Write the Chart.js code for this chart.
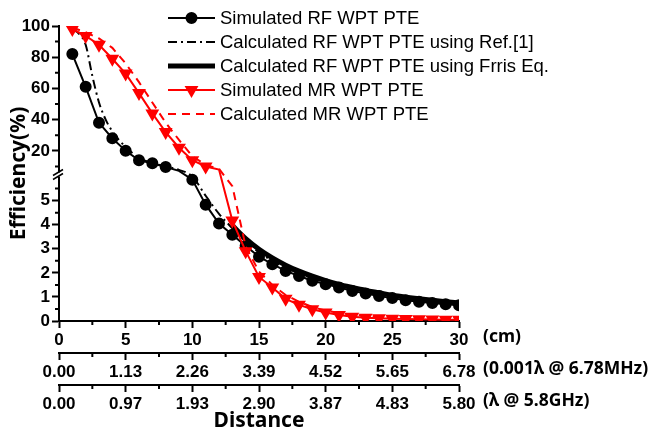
<!DOCTYPE html>
<html>
<head>
<meta charset="utf-8">
<script src="https://cdn.jsdelivr.net/npm/chart.js@4.4.0/dist/chart.umd.min.js"></script>
<style>
  html, body { margin: 0; padding: 0; background: #fff; }
  #wrap { width: 653px; height: 434px; }
</style>
</head>
<body>
<div id="wrap"><canvas id="chart"></canvas></div>
<script>
// distance (cm) and efficiency (%)
const distCm = [1,2,3,4,5,6,7,8,9,10,11,12,13,14,15,16,17,18,19,20,21,22,23,24,25,26,27,28,29,30];
const simRF = [82, 61, 38, 28, 20, 14, 12, 9.6, 7.2, 5.87, 4.83, 4.05, 3.58, 3.12, 2.67, 2.36, 2.08, 1.87, 1.67, 1.53,
               1.39, 1.25, 1.14, 1.04, 0.95, 0.86, 0.80, 0.75, 0.70, 0.65];
const refDist = [1, 1.5, 2, 2.5, 3, 3.5, 4, 5, 6, 7, 8, 9, 10, 11, 12, 13, 14, 15, 16, 17, 18, 19, 20, 21, 22, 23, 24, 25, 26, 27, 28, 29, 30];
const calcRef = [98, 95, 88, 68, 51, 40, 32.5, 22.5, 15.5, 12.3, 10, 7.8, 6.0, 5.2, 4.45, 3.85, 3.3, 2.85, 2.5, 2.2,
                 1.98, 1.78, 1.6, 1.46, 1.33, 1.22, 1.12, 1.03, 0.95, 0.88, 0.82, 0.77, 0.72];
const friisDist = [13,14,15,16,17,18,19,20,21,22,23,24,25,26,27,28,29,30];
const calcFriis = [3.97, 3.42, 2.98, 2.62, 2.32, 2.07, 1.86, 1.68, 1.52, 1.39, 1.27, 1.17, 1.07, 0.99, 0.92, 0.86, 0.80, 0.75];
const simMR = [98, 93.6, 88, 79, 69.5, 57, 44, 32, 22, 14, 10, 8, 4.17, 2.9, 1.83, 1.39, 0.92, 0.67, 0.49, 0.35,
               0.25, 0.18, 0.14, 0.11, 0.09, 0.08, 0.07, 0.06, 0.05, 0.05];
const calcMR = [99, 96, 92, 86, 76, 64, 51, 38, 27, 16.5, 11, 8.5, 5.6, 3.1, 2.05, 1.5, 1.08, 0.8, 0.58, 0.43,
                0.33, 0.26, 0.21, 0.17, 0.14, 0.12, 0.11, 0.1, 0.09, 0.08];

const seriesNames = ["Simulated RF WPT PTE", "Calculated RF WPT PTE using Ref.[1]",
                     "Calculated RF WPT PTE using Frris Eq.", "Simulated MR WPT PTE", "Calculated MR WPT PTE"];

// axis ticks
const yTicks = [0, 1, 2, 3, 4, 5, 20, 40, 60, 80, 100];
const yMinor = [0.5, 1.5, 2.5, 3.5, 4.5, 5.5, 10, 30, 50, 70, 90];
const cmTicks = [0, 5, 10, 15, 20, 25, 30];
const mhzLabels = ["0.00", "1.13", "2.26", "3.39", "4.52", "5.65", "6.78"];
const ghzLabels = ["0.00", "0.97", "1.93", "2.90", "3.87", "4.83", "5.80"];
const xMinor = [2.5, 7.5, 12.5, 17.5, 22.5, 27.5];
const axisUnits = ["(cm)", "(0.001\u03bb @ 6.78MHz)", "(\u03bb @ 5.8GHz)"];

// broken y axis: 0..6 on the lower part, 6..100 compressed on the upper part
const BREAK_AT = 6;
function toAxisUnits(v) {
  if (v <= BREAK_AT) return v;
  return 5.77 + v * 0.0648;
}

class BrokenLinearScale extends Chart.LinearScale {
  getPixelForValue(value) {
    return this.getPixelForDecimal(toAxisUnits(value) / toAxisUnits(this.max));
  }
}
BrokenLinearScale.id = "brokenLinear";
BrokenLinearScale.defaults = Chart.LinearScale.defaults;
Chart.register(BrokenLinearScale);

const tickFont = { family: "'Liberation Sans', Arial, sans-serif", size: 17, weight: "bold" };
const titleFont = { family: "'Noto Sans', 'DejaVu Sans', sans-serif", size: 21, weight: "bold" };

function pts(xs, ys) {
  return xs.map((x, i) => ({ x: x, y: ys[i] }));
}
// markers that sit inside the axis break are not shown
function markerSize(r) {
  return ctx => (ctx.raw && ctx.raw.y > BREAK_AT && ctx.raw.y < 9) ? 0 : r;
}

const datasets = [
  {
    label: seriesNames[0], data: pts(distCm, simRF),
    borderColor: "#000", backgroundColor: "#000", borderWidth: 2,
    pointStyle: "circle", pointRadius: markerSize(5), order: 2
  },
  {
    label: seriesNames[1], data: pts(refDist, calcRef),
    borderColor: "#000", borderWidth: 2, borderDash: [9, 4, 2, 4],
    pointRadius: 0, cubicInterpolationMode: "monotone", order: 3
  },
  {
    label: seriesNames[2], data: pts(friisDist, calcFriis),
    borderColor: "#000", borderWidth: 5,
    pointRadius: 0, cubicInterpolationMode: "monotone", order: 4
  },
  {
    label: seriesNames[3], data: pts(distCm, simMR),
    borderColor: "#ff0000", backgroundColor: "#ff0000", borderWidth: 2,
    pointStyle: "triangle", pointRotation: 180, pointRadius: markerSize(6), order: 0
  },
  {
    label: seriesNames[4], data: pts(distCm, calcMR),
    borderColor: "#ff0000", borderWidth: 2, borderDash: [8, 6],
    pointRadius: 0, order: 1
  }
];

function xAxis(labels, weight, withTitle) {
  return {
    type: "linear", position: "bottom", min: 0, max: 30, weight: weight,
    afterBuildTicks: s => { s.ticks = cmTicks.map(v => ({ value: v })); },
    afterFit: s => { s.height = withTitle ? 49 : 32; },
    border: { display: true, color: "#000", width: 2 },
    grid: { drawOnChartArea: false, drawTicks: true, tickLength: 7, tickColor: "#000", tickWidth: 2 },
    ticks: { autoSkip: false, maxRotation: 0, padding: 2, color: "#000", font: tickFont,
             callback: (v, i) => labels[i] },
    title: withTitle ? { display: true, text: "Distance", color: "#000", font: titleFont, padding: { top: 0, bottom: 0 } }
                     : { display: false }
  };
}

// minor ticks, axis break marks, unit captions
const decorPlugin = {
  id: "decor",
  afterDraw(chart) {
    const ctx = chart.ctx;
    const area = chart.chartArea;
    const y = chart.scales.y;
    ctx.save();
    ctx.strokeStyle = "#000";
    ctx.lineWidth = 2;
    ctx.beginPath();
    yMinor.forEach(v => {
      const py = y.getPixelForValue(v);
      ctx.moveTo(area.left - 4, py);
      ctx.lineTo(area.left, py);
    });
    ["x", "x2", "x3"].forEach(id => {
      const s = chart.scales[id];
      xMinor.forEach(v => {
        const px = s.getPixelForValue(v);
        ctx.moveTo(px, s.top);
        ctx.lineTo(px, s.top + 4);
      });
    });
    ctx.stroke();

    // axis break
    const yLow = y.getPixelForValue(BREAK_AT);
    const yHigh = yLow - 4;
    ctx.fillStyle = "#fff";
    ctx.fillRect(area.left - 3, yHigh, 6, yLow - yHigh);
    ctx.lineWidth = 1.5;
    ctx.beginPath();
    [yHigh, yLow].forEach(py => {
      ctx.moveTo(area.left - 6, py + 3);
      ctx.lineTo(area.left + 4, py - 3);
    });
    ctx.stroke();

    // units next to each distance axis
    ctx.fillStyle = "#000";
    ctx.font = "bold 17.5px 'Noto Sans', 'DejaVu Sans', sans-serif";
    ctx.textBaseline = "middle";
    ctx.textAlign = "left";
    ["x", "x2", "x3"].forEach((id, i) => {
      const s = chart.scales[id];
      ctx.fillText(axisUnits[i], area.right + 24, s.top + 16);
    });
    ctx.restore();
  }
};

// legend drawn in the upper right like the original figure
const legendPlugin = {
  id: "figLegend",
  afterDraw(chart) {
    const ctx = chart.ctx;
    const x0 = 168, x1 = 215, tx = 220, top = 18, step = 24;
    ctx.save();
    chart.data.datasets.forEach((ds, i) => {
      const yy = top + i * step;
      ctx.strokeStyle = ds.borderColor;
      ctx.lineWidth = ds.borderWidth;
      ctx.setLineDash(ds.borderDash || []);
      ctx.beginPath();
      ctx.moveTo(x0, yy);
      ctx.lineTo(x1, yy);
      ctx.stroke();
      ctx.setLineDash([]);
      if (ds.pointStyle) {
        Chart.helpers.drawPoint(ctx, {
          pointStyle: ds.pointStyle, rotation: ds.pointRotation || 0,
          radius: ds.pointStyle === "circle" ? 5 : 6, borderWidth: 1
        }, (x0 + x1) / 2, yy);
        ctx.fillStyle = ds.backgroundColor;
        ctx.fill();
      }
      ctx.fillStyle = "#000";
      ctx.font = "18.5px 'Liberation Sans', Arial, sans-serif";
      ctx.textBaseline = "middle";
      ctx.fillText(ds.label, tx, yy + 1);
    });
    ctx.restore();
  }
};

new Chart(document.getElementById("chart").getContext("2d"), {
  type: "line",
  data: { datasets: datasets },
  options: {
    responsive: true,
    maintainAspectRatio: false,
    animation: false,
    layout: { padding: { top: 26, right: 194, left: 0, bottom: 0 } },
    plugins: { legend: { display: false }, tooltip: { enabled: false } },
    elements: { line: { tension: 0 }, point: { borderWidth: 1 } },
    scales: {
      x: xAxis(cmTicks.map(String), 0, false),
      x2: xAxis(mhzLabels, 1, false),
      x3: xAxis(ghzLabels, 2, true),
      y: {
        type: "brokenLinear", min: 0, max: 100,
        afterBuildTicks: s => { s.ticks = yTicks.map(v => ({ value: v })); },
        afterFit: s => { s.width = 59; },
        border: { display: true, color: "#000", width: 2 },
        grid: { drawOnChartArea: false, drawTicks: true, tickLength: 7, tickColor: "#000", tickWidth: 2 },
        ticks: { autoSkip: false, padding: 2, color: "#000", font: tickFont, callback: v => String(v) },
        title: { display: true, text: "Efficiency(%)", color: "#000", font: titleFont, padding: { top: 6, bottom: 0 } }
      }
    }
  },
  plugins: [decorPlugin, legendPlugin]
});
</script>
</body>
</html>
